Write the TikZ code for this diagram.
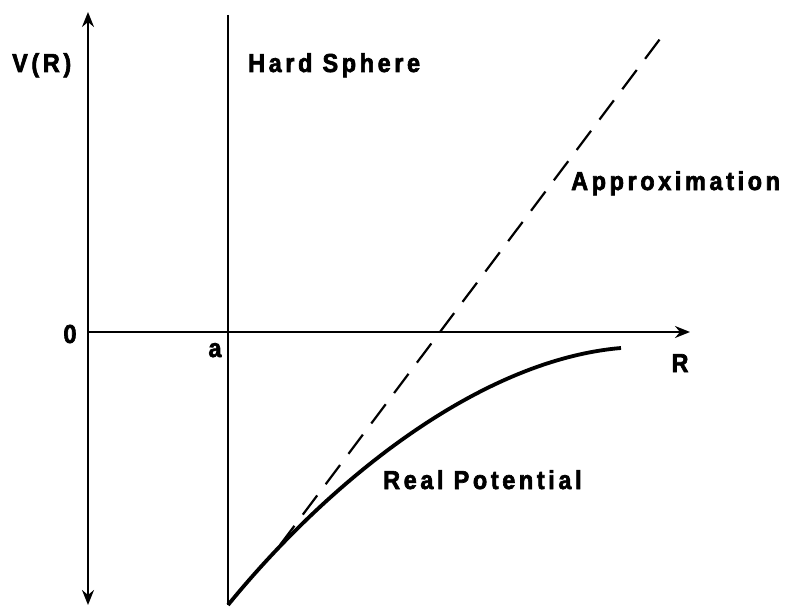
\documentclass[tikz,border=0pt]{standalone}
\usepackage{fontspec}
\setmainfont{Liberation Sans}[FakeStretch=0.9,LetterSpace=14,BoldFeatures={FakeBold=2.5}]
\usetikzlibrary{arrows.meta}
\begin{document}
\begin{tikzpicture}[x=1pt,y=-1pt,
  lbl/.style={font=\fontsize{26}{28}\selectfont\bfseries, inner sep=0pt},
  axis/.style={line width=2.2pt},
  tip/.style={-{Stealth[length=15pt,width=12pt,inset=5pt]}}]
\useasboundingbox (0,0) rectangle (785,607);
\coordinate (vtop) at (88,12);
\coordinate (vbot) at (88,605);
\coordinate (o) at (88,332);
\coordinate (hend) at (690,332);
\coordinate (wtop) at (228,15);
\coordinate (wbot) at (228,605);
\coordinate (dlo) at (280,545);
\coordinate (dhi) at (666,31);
\coordinate (cend) at (621,348);
\draw[axis,{Stealth[length=15pt,width=12pt,inset=5pt]}-{Stealth[length=15pt,width=12pt,inset=5pt]}] (vbot) -- (vtop);
\draw[axis,tip] (o) -- (hend);
\draw[line width=1.8pt] (wtop) -- (wbot);
\draw[line width=2.2pt,dash pattern=on 24pt off 14pt] (dlo) -- (dhi);
\draw[line width=3.8pt] (wbot) .. controls (330,480) and (480,360) .. (cend);
\node[lbl,anchor=base west] (vr) at (12,72) {V(R)};
\node[lbl,anchor=base west] (hs) at (248,72) {Hard Sphere};
\node[lbl,anchor=base west] (ap) at (571,190) {Approximation};
\node[lbl,anchor=base west] (rp) at (383,489) {Real Potential};
\node[lbl] (zero) at (70,334) {0};
\node[lbl,anchor=base] (a) at (215,357) {a};
\node[lbl,anchor=base] (r) at (680,372) {R};
\end{tikzpicture}
\end{document}
